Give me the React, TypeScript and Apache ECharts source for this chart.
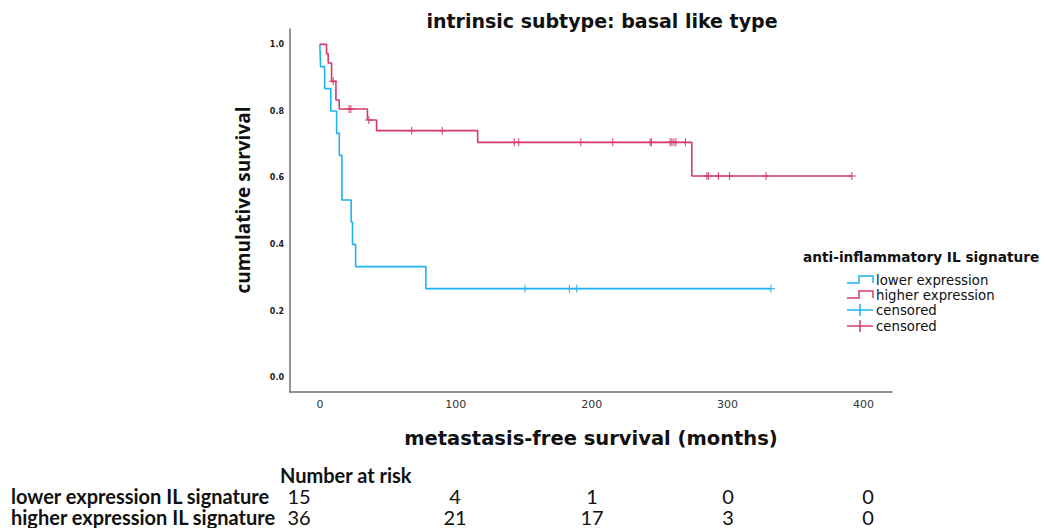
import React, { useEffect, useRef } from "react";
import * as echarts from "echarts";

// Kaplan-Meier step data (time in months, cumulative survival after the step)
const lowerTimes = [0, 0.5, 3.5, 8, 12.3, 14.3, 16.2, 23.0, 24.0, 26.3, 78.0, 331.9];
const lowerSurv = [1, 0.933, 0.867, 0.8, 0.733, 0.667, 0.533, 0.467, 0.4, 0.333, 0.267, 0.267];
const lowerCensored = [151, 183.6, 189, 331.9];

const higherTimes = [0, 4.9, 6.1, 8.6, 11.8, 14.2, 35, 41.7, 116.1, 273.7, 391.5];
const higherSurv = [1, 0.972, 0.944, 0.889, 0.833, 0.806, 0.773, 0.741, 0.706, 0.605, 0.605];
const higherCensored = [
  9.8, 21.5, 22.8, 36, 67.5, 90, 143, 146.3, 192, 215.5, 243, 244, 257.7, 259, 260.5, 262, 269,
  284.8, 286, 293.3, 301.4, 328.4, 391.5,
];

// Number at risk table
const riskTimes = [0, 100, 200, 300, 400];
const lowerRisk = [15, 4, 1, 0, 0];
const higherRisk = [36, 21, 17, 3, 0];
const riskRowLabels = ["lower expression IL signature", "higher expression IL signature"];

const legendLabels = ["lower expression", "higher expression", "censored", "censored"];

const BLUE = "#1DB2F0";
const RED = "#D63A6A";
const BLUE_MARK = "#16A9EA";
const RED_MARK = "#C9285C";

function survivalAt(times: number[], surv: number[], t: number) {
  let s = surv[0];
  for (let i = 0; i < times.length; i++) if (times[i] <= t) s = surv[i];
  return s;
}

const CROSS = "path://M4.3,0H5.7V10H4.3ZM0,4.3H10V5.7H0Z";

export default function App() {
  const ref = useRef<HTMLDivElement>(null);
  useEffect(() => {
    document.body.style.margin = "0";
    const chart = echarts.init(ref.current!, null, { renderer: "svg" });
    const tableFont = 'bold 20px Lato, Roboto, sans-serif';
    const numFont = '20px Lato, Roboto, sans-serif';
    const colX = [299, 455, 592, 728, 868];
    const rowY = [280, 295, 310, 326];
    const graphic: any[] = [
      {
        type: "text",
        x: 602,
        y: 21,
        style: {
          text: "intrinsic subtype: basal like type",
          font: 'bold 19px "DejaVu Sans"',
          fill: "#111",
          align: "center",
          verticalAlign: "middle",
        },
      },
      {
        type: "text",
        x: 243,
        y: 200,
        rotation: Math.PI / 2,
        style: {
          text: "cumulative survival",
          font: 'bold 19px "Open Sans"',
          fill: "#111",
          align: "center",
          verticalAlign: "middle",
        },
      },
      {
        type: "text",
        x: 591,
        y: 438,
        style: {
          text: "metastasis-free survival (months)",
          font: 'bold 19.5px "DejaVu Sans"',
          fill: "#111",
          align: "center",
          verticalAlign: "middle",
        },
      },
      {
        type: "text",
        x: 803,
        y: 257,
        style: {
          text: "anti-inflammatory IL signature",
          font: 'bold 13.7px "DejaVu Sans"',
          fill: "#111",
          align: "left",
          verticalAlign: "middle",
        },
      },
    ];
    legendLabels.forEach((lab, i) => {
      const y = rowY[i];
      const color = i % 2 === 0 ? BLUE : RED;
      if (i < 2) {
        graphic.push({
          type: "polyline",
          shape: {
            points: [
              [847, y + 3],
              [859, y + 3],
              [859, y - 4],
              [873, y - 4],
              [873, y + 3],
            ],
          },
          style: { stroke: color, lineWidth: 1.5, fill: "none" },
        });
      } else {
        graphic.push({
          type: "line",
          shape: { x1: 847, y1: y, x2: 873, y2: y },
          style: { stroke: color, lineWidth: 1.5 },
        });
        graphic.push({
          type: "line",
          shape: { x1: 860, y1: y - 6, x2: 860, y2: y + 6 },
          style: { stroke: color, lineWidth: 1.5 },
        });
      }
      graphic.push({
        type: "text",
        x: 876,
        y,
        style: {
          text: lab,
          font: '13.3px "DejaVu Sans"',
          lineHeight: 14,
          fill: "#111",
          align: "left",
          verticalAlign: "middle",
        },
      });
    });
    graphic.push({
      type: "text",
      x: 280,
      y: 475,
      style: {
        text: "Number at risk",
        font: tableFont,
        lineHeight: 19,
        fill: "#111",
        align: "left",
        verticalAlign: "middle",
      },
    });
    [lowerRisk, higherRisk].forEach((row, r) => {
      const y = 496 + r * 21;
      graphic.push({
        type: "text",
        x: 11,
        y,
        style: {
          text: riskRowLabels[r],
          font: tableFont,
          lineHeight: 19,
          fill: "#111",
          align: "left",
          verticalAlign: "middle",
        },
      });
      row.forEach((v, c) => {
        graphic.push({
          type: "text",
          x: colX[c],
          y,
          style: {
            text: String(v),
            font: numFont,
            lineHeight: 19,
            fill: "#111",
            align: "center",
            verticalAlign: "middle",
          },
        });
      });
    });

    chart.setOption({
      animation: false,
      grid: { left: 290, top: 29, width: 602, height: 363, containLabel: false },
      xAxis: {
        type: "value",
        min: -22,
        max: 421,
        splitLine: { show: false },
        axisTick: { show: false },
        axisLine: { onZero: false, lineStyle: { color: "#707070", width: 1.5 } },
        axisLabel: {
          showMinLabel: false,
          showMaxLabel: false,
          margin: 7,
          color: "#333",
          fontFamily: "DejaVu Sans",
          fontSize: 11,
          formatter: (v: number) => (riskTimes.includes(v) ? String(v) : ""),
        },
      },
      yAxis: {
        type: "value",
        min: -0.043,
        max: 1.046,
        splitLine: { show: false },
        axisTick: { show: false },
        axisLine: { show: true, onZero: false, lineStyle: { color: "#707070", width: 1.5 } },
        axisLabel: {
          showMinLabel: false,
          showMaxLabel: false,
          margin: 6,
          color: "#222",
          fontFamily: "DejaVu Sans",
          fontWeight: "bold",
          fontSize: 8,
          formatter: (v: number) => v.toFixed(1),
        },
      },
      series: [
        {
          type: "line",
          step: "end",
          symbol: "none",
          data: lowerTimes.map((t, i) => [t, lowerSurv[i]]),
          lineStyle: { color: BLUE, width: 1.6 },
        },
        {
          type: "line",
          step: "end",
          symbol: "none",
          data: higherTimes.map((t, i) => [t, higherSurv[i]]),
          lineStyle: { color: RED, width: 1.6 },
        },
        {
          type: "scatter",
          symbol: CROSS,
          symbolSize: 8,
          data: lowerCensored.map((t) => [t, survivalAt(lowerTimes, lowerSurv, t)]),
          itemStyle: { color: BLUE_MARK },
        },
        {
          type: "scatter",
          symbol: CROSS,
          symbolSize: 8,
          data: higherCensored.map((t) => [t, survivalAt(higherTimes, higherSurv, t)]),
          itemStyle: { color: RED_MARK },
        },
      ],
      graphic,
    });
    return () => chart.dispose();
  }, []);
  return <div ref={ref} style={{ width: 1045, height: 528 }} />;
}
